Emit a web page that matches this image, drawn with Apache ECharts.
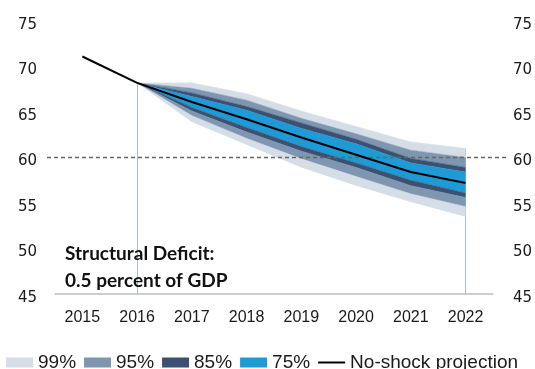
<!DOCTYPE html>
<html>
<head>
<meta charset="utf-8">
<script src="https://cdn.jsdelivr.net/npm/echarts@6/dist/echarts.min.js"></script>
<style>
  html, body { margin: 0; padding: 0; background: #ffffff; }
  #chart { width: 535px; height: 369px; }
</style>
</head>
<body>
<div id="chart"></div>
<script>
// Debt projection fan chart (percent of GDP)
const years = ['2015', '2016', '2017', '2018', '2019', '2020', '2021', '2022'];
const yTicks = [45, 50, 55, 60, 65, 70, 75];

// Central (no-shock) projection
const projection = [71.1, 68.2, 66.1, 64.2, 62.2, 60.3, 58.4, 57.2];

// Confidence band edges
const p99Hi = [null, 68.2, 68.2, 67.0, 65.1, 63.4, 61.7, 61.0];
const p95Hi = [null, 68.2, 67.6, 66.3, 64.3, 62.6, 60.8, 60.0];
const p85Hi = [null, 68.2, 67.1, 65.6, 63.8, 62.0, 59.9, 58.9];
const p75Hi = [null, 68.2, 66.7, 65.2, 63.2, 61.5, 59.4, 58.4];
const p75Lo = [null, 68.2, 65.5, 63.3, 61.2, 59.4, 57.5, 56.1];
const p85Lo = [null, 68.2, 65.1, 62.8, 60.7, 58.9, 56.9, 55.6];
const p95Lo = [null, 68.2, 64.6, 62.1, 59.85, 57.9, 56.0, 54.6];
const p99Lo = [null, 68.2, 63.9, 61.4, 58.9, 56.9, 55.1, 53.5];

const threshold = 60;
const bandNames = ['99%', '95%', '85%', '75%'];
const lineName = 'No-shock projection';
const noteText = 'Structural Deficit:\n0.5 percent of GDP';

const colors = {
  '99%': '#D5DEE7',
  '95%': '#7E96B0',
  '85%': '#3C5171',
  '75%': '#1E9BD7'
};

const GRID_LEFT = 55, GRID_RIGHT = 37, GRID_TOP = 21, GRID_BOTTOM = 75;

function diff(upper, lower) {
  return upper.map((v, i) => (v == null || lower[i] == null) ? null : +(v - lower[i]).toFixed(3));
}

function bandSeries(name, values) {
  return {
    name: name,
    type: 'line',
    stack: 'fan',
    data: values,
    symbol: 'none',
    silent: true,
    z: 2,
    itemStyle: { color: colors[name] },
    lineStyle: { width: 0.6, color: colors[name] },
    areaStyle: { color: colors[name], opacity: 1 }
  };
}

const series = [
  {
    name: 'base',
    type: 'line',
    stack: 'fan',
    data: p99Lo,
    symbol: 'none',
    silent: true,
    z: 1,
    lineStyle: { opacity: 0 },
    markLine: {
      silent: true,
      symbol: 'none',
      z: 1,
      label: { show: false },
      lineStyle: { color: '#AEBDCC', width: 1, type: 'solid' },
      data: [
        [{ coord: [years[1], yTicks[0]] }, { coord: [years[1], projection[1]] }],
        [{ coord: [years[7], yTicks[0]] }, { coord: [years[7], p99Hi[7]] }]
      ]
    }
  },
  bandSeries('99%', diff(p95Lo, p99Lo)),
  bandSeries('95%', diff(p85Lo, p95Lo)),
  bandSeries('85%', diff(p75Lo, p85Lo)),
  bandSeries('75%', diff(p75Hi, p75Lo)),
  bandSeries('85%', diff(p85Hi, p75Hi)),
  bandSeries('95%', diff(p95Hi, p85Hi)),
  bandSeries('99%', diff(p99Hi, p95Hi)),
  {
    name: lineName,
    type: 'line',
    data: projection,
    symbol: 'none',
    showSymbol: false,
    z: 5,
    itemStyle: { color: '#000000' },
    lineStyle: { color: '#000000', width: 2 }
  }
];

const chart = echarts.init(document.getElementById('chart'), null, { renderer: 'canvas' });

// Value labels sit a little below their tick
function valueLabels(margin) {
  return {
    color: '#1a1a1a',
    fontFamily: 'DejaVu Sans',
    fontSize: 15,
    margin: margin,
    verticalAlign: 'top',
    lineHeight: 8
  };
}

chart.setOption({
  animation: false,
  backgroundColor: '#ffffff',
  grid: { left: GRID_LEFT, right: GRID_RIGHT, top: GRID_TOP, bottom: GRID_BOTTOM },
  legend: {
    left: 6,
    top: 353,
    width: 530,
    padding: 0,
    itemWidth: 27,
    itemHeight: 10,
    itemGap: 8,
    textStyle: { fontFamily: 'Liberation Sans', fontSize: 19, color: '#1a1a1a' },
    data: bandNames.map(n => ({ name: n, icon: 'rect', itemStyle: { color: colors[n] } }))
      .concat([{
        name: lineName,
        icon: 'path://M0,0H27V2H0Z',
        itemStyle: { color: '#000000' }
      }])
  },
  xAxis: {
    type: 'category',
    data: years,
    boundaryGap: true,
    axisLine: { show: true, lineStyle: { color: '#BFBFBF', width: 1.5 } },
    axisTick: { show: false },
    splitLine: { show: false },
    axisLabel: {
      color: '#1a1a1a',
      fontFamily: 'Liberation Sans',
      fontSize: 16,
      margin: 16,
      interval: 0
    }
  },
  yAxis: [
    {
      type: 'value',
      min: yTicks[0],
      max: yTicks[yTicks.length - 1],
      interval: 5,
      position: 'left',
      axisLine: { show: false },
      axisTick: { show: false },
      splitLine: { show: false },
      axisLabel: valueLabels(18)
    },
    {
      type: 'value',
      min: yTicks[0],
      max: yTicks[yTicks.length - 1],
      interval: 5,
      position: 'right',
      axisLine: { show: false },
      axisTick: { show: false },
      splitLine: { show: false },
      axisLabel: valueLabels(20)
    }
  ],
  series: series
});

// Reference line at the 60 percent threshold, slightly wider than the plot area
const yRef = chart.convertToPixel({ yAxisIndex: 0 }, threshold);
chart.setOption({
  graphic: [
    {
      type: 'line',
      z: 4,
      silent: true,
      shape: { x1: GRID_LEFT - 8, y1: yRef, x2: 535 - GRID_RIGHT + 9, y2: yRef },
      style: { stroke: '#666666', lineWidth: 1.5, lineDash: [4, 3] }
    },
    {
      type: 'text',
      left: 65,
      top: 240,
      z: 6,
      silent: true,
      style: {
        text: noteText,
        fontFamily: 'Lato',
        fontWeight: 'bold',
        fontSize: 19,
        lineHeight: 27,
        fill: '#111111'
      }
    }
  ]
});
</script>
</body>
</html>
